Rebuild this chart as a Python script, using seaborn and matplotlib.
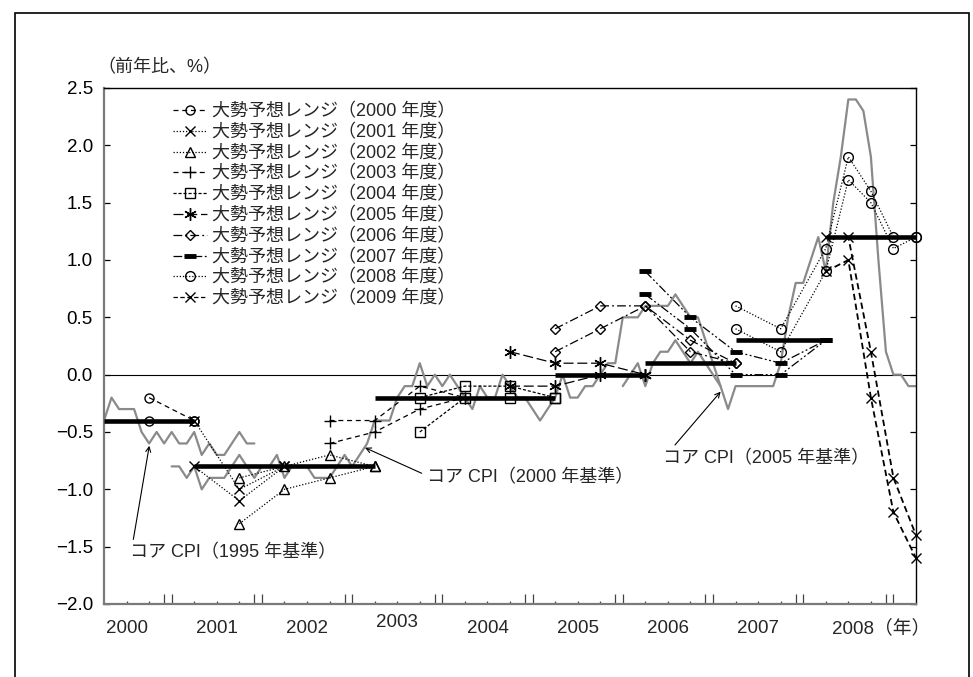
import matplotlib
matplotlib.use("Agg")
import matplotlib.pyplot as plt
import matplotlib.transforms as mtransforms
from matplotlib.lines import Line2D
from matplotlib.patches import Rectangle
import numpy as np
import pandas as pd
import seaborn as sns

sns.set_style("ticks")
plt.rcParams["font.family"] = ["Liberation Sans", "Noto Sans CJK JP"]
plt.rcParams["axes.unicode_minus"] = True

# ---- core CPI, y/y % change (monthly) ----
cpi95_start = "2000-04"
cpi95 = [-0.4, -0.2, -0.3, -0.3, -0.3, -0.5, -0.6, -0.5, -0.6, -0.5, -0.6,
         -0.6, -0.5, -0.7, -0.6, -0.7, -0.7, -0.6, -0.5, -0.6, -0.6]

cpi00_start = "2001-01"
cpi00 = [-0.8, -0.8, -0.9, -0.8, -1.0, -0.9, -0.9, -0.9, -0.8, -0.7, -0.8, -0.9,
         -0.8, -0.8, -0.7,
         -0.9, -0.8, -0.8, -0.8, -0.9, -0.9, -0.9, -0.8, -0.7, -0.8, -0.7, -0.6,
         -0.4, -0.4, -0.4, -0.2, -0.1, -0.1, 0.1, -0.1, 0.0, -0.1, 0.0, -0.1,
         -0.2, -0.3,
         -0.1, -0.2, -0.2, 0.0, -0.1, -0.2, -0.2, -0.3, -0.4, -0.3, -0.2, 0.0,
         -0.2, -0.2, -0.1, -0.1, 0.0, 0.1, 0.1,
         0.5, 0.5, 0.5, 0.6, 0.6, 0.6, 0.6, 0.7, 0.6, 0.5, 0.5, 0.3, 0.1, -0.1]

cpi05_start = "2006-01"
cpi05 = [-0.1, 0.0, 0.1, -0.1, 0.1, 0.2, 0.2, 0.3, 0.2, 0.1, 0.2, 0.1,
         0.0, -0.1, -0.3, -0.1, -0.1, -0.1, -0.1, -0.1, -0.1, 0.1, 0.5, 0.8,
         0.8, 1.0, 1.2, 0.9, 1.5, 1.9, 2.4, 2.4, 2.3, 1.9, 1.0, 0.2,
         0.0, 0.0, -0.1, -0.1]

# ---- actual results by fiscal year ----
fy_years = [2000, 2001, 2002, 2003, 2004, 2005, 2006, 2007, 2008]
fy_actual = [-0.4, -0.8, -0.8, -0.2, -0.2, 0.0, 0.1, 0.3, 1.2]

# ---- majority forecast ranges (upper / lower) by fiscal year ----
dates_fy2000 = ["2000-10", "2001-04"]
upper_fy2000 = [-0.2, -0.4]
lower_fy2000 = [-0.4, -0.4]

dates_fy2001 = ["2001-04", "2001-10", "2002-04"]
upper_fy2001 = [-0.4, -1.0, -0.8]
lower_fy2001 = [-0.8, -1.1, -0.8]

dates_fy2002 = ["2001-10", "2002-04", "2002-10", "2003-04"]
upper_fy2002 = [-0.9, -0.8, -0.7, -0.8]
lower_fy2002 = [-1.3, -1.0, -0.9, -0.8]

dates_fy2003 = ["2002-10", "2003-04", "2003-10", "2004-04"]
upper_fy2003 = [-0.4, -0.4, -0.1, -0.2]
lower_fy2003 = [-0.6, -0.5, -0.3, -0.2]

dates_fy2004 = ["2003-10", "2004-04", "2004-10", "2005-04"]
upper_fy2004 = [-0.2, -0.1, -0.1, -0.2]
lower_fy2004 = [-0.5, -0.2, -0.2, -0.2]

dates_fy2005 = ["2004-10", "2005-04", "2005-10", "2006-04"]
upper_fy2005 = [0.2, 0.1, 0.1, 0.0]
lower_fy2005 = [-0.1, -0.1, 0.0, 0.0]

dates_fy2006 = ["2005-04", "2005-10", "2006-04", "2006-10", "2007-04"]
upper_fy2006 = [0.4, 0.6, 0.6, 0.3, 0.1]
lower_fy2006 = [0.2, 0.4, 0.6, 0.2, 0.1]

dates_fy2007 = ["2006-04", "2006-10", "2007-04", "2007-10", "2008-04"]
upper_fy2007 = [0.9, 0.5, 0.2, 0.1, 0.3]
lower_fy2007 = [0.7, 0.4, 0.0, 0.0, 0.3]

dates_fy2008 = ["2007-04", "2007-10", "2008-04", "2008-07", "2008-10", "2009-01", "2009-04"]
upper_fy2008 = [0.6, 0.4, 1.1, 1.9, 1.6, 1.2, 1.2]
lower_fy2008 = [0.4, 0.2, 0.9, 1.7, 1.5, 1.1, 1.2]

dates_fy2009 = ["2008-04", "2008-07", "2008-10", "2009-01", "2009-04"]
upper_fy2009 = [1.2, 1.2, 0.2, -0.9, -1.4]
lower_fy2009 = [0.9, 1.0, -0.2, -1.2, -1.6]

legend_labels = ["大勢予想レンジ（%d 年度）" % y for y in range(2000, 2010)]
year_labels = ["2000", "2001", "2002", "2003", "2004", "2005", "2006", "2007", "2008（年）"]
y_ticks = [-2.0, -1.5, -1.0, -0.5, 0.0, 0.5, 1.0, 1.5, 2.0, 2.5]


def ym(s):
    """'YYYY-MM' -> decimal year at the start of that month."""
    y, m = s.split("-")
    return int(y) + (int(m) - 1) / 12.0


def monthly(start, values):
    x0 = ym(start)
    return pd.DataFrame({"x": x0 + np.arange(len(values)) / 12.0, "v": values})


fig = plt.figure(figsize=(9.73, 6.77), dpi=100)
ax = fig.add_axes([104 / 973, 1 - 604 / 677, 812 / 973, 516 / 677])

X0, X1 = 2000.25, 2009.25
ax.set_xlim(X0, X1)
ax.set_ylim(-2.0, 2.5)

# zero line
ax.axhline(0, color="black", lw=0.8, zorder=1)

# core CPI series
gray = "#8a8a8a"
for start, vals in [(cpi95_start, cpi95), (cpi00_start, cpi00), (cpi05_start, cpi05)]:
    d = monthly(start, vals)
    sns.lineplot(data=d, x="x", y="v", ax=ax, color=gray, lw=1.6, zorder=2)

# fiscal-year actuals as thick bars over each fiscal year (Apr - Mar)
for fy, val in zip(fy_years, fy_actual):
    d = pd.DataFrame({"x": [fy + 0.25, fy + 1.25], "v": [val, val]})
    sns.lineplot(data=d, x="x", y="v", ax=ax, color="black", lw=3.3,
                 solid_capstyle="butt", zorder=3)

series = [
    (dates_fy2000, upper_fy2000, lower_fy2000, dict(marker="o", ms=6.5, ls=(0, (4, 3)))),
    (dates_fy2001, upper_fy2001, lower_fy2001, dict(marker="x", ms=7, ls=(0, (1, 1.5)))),
    (dates_fy2002, upper_fy2002, lower_fy2002, dict(marker="^", ms=6.5, ls=(0, (1, 1.5)))),
    (dates_fy2003, upper_fy2003, lower_fy2003, dict(marker="+", ms=9, ls=(0, (4, 3)))),
    (dates_fy2004, upper_fy2004, lower_fy2004, dict(marker="s", ms=6.5, ls=(0, (2.5, 1.5)))),
    (dates_fy2005, upper_fy2005, lower_fy2005, dict(marker=(6, 2, 0), ms=9, ls=(0, (8, 3)))),
    (dates_fy2006, upper_fy2006, lower_fy2006, dict(marker="D", ms=5.5, ls=(0, (7, 2.5, 1.5, 2.5)))),
    (dates_fy2007, upper_fy2007, lower_fy2007, dict(marker="_", ms=9, mew=3.5, ls=(0, (7, 2, 1.5, 2, 1.5, 2)))),
    (dates_fy2008, upper_fy2008, lower_fy2008, dict(marker="o", ms=7, ls=(0, (1, 1.5)))),
    (dates_fy2009, upper_fy2009, lower_fy2009, dict(marker="x", ms=7, ls=(0, (3.5, 2)), lw=1.3)),
]

handles = []
for dates, up, lo, st in series:
    xs = [ym(s) for s in dates]
    lw = st.get("lw", 0.9)
    mew = st.get("mew", 1.0)
    for vals in (up, lo):
        d = pd.DataFrame({"x": xs, "v": vals})
        sns.lineplot(data=d, x="x", y="v", ax=ax, color="black", lw=lw,
                     linestyle=st["ls"], marker=st["marker"], markersize=st["ms"],
                     markerfacecolor="none", markeredgecolor="black",
                     markeredgewidth=mew, zorder=4, clip_on=False)
    handles.append(Line2D([], [], color="black", lw=0.9, linestyle=st["ls"],
                          marker=st["marker"], markersize=st["ms"],
                          markerfacecolor="none", markeredgecolor="black",
                          markeredgewidth=mew))

ax.set_xlabel("")
ax.set_ylabel("")

# axes frame
for side in ("left", "bottom"):
    ax.spines[side].set_color("#7a7a7a")
    ax.spines[side].set_linewidth(1.6)
for side in ("top", "right"):
    ax.spines[side].set_color("black")
    ax.spines[side].set_linewidth(1.0)
    ax.spines[side].set_visible(True)

# y ticks: inward, on both sides
ax.set_yticks(y_ticks)
ax.set_yticklabels(["%.1f" % v if v >= 0 else "\u2212%.1f" % abs(v) for v in y_ticks])
ax.tick_params(axis="y", which="both", direction="in", left=True, right=True,
               length=4, width=0.9, pad=8, labelsize=13.5, colors="black")

# x ticks: long at Dec/Jan, short at Apr/Jul/Oct
years = np.arange(2000, 2010)
major = sorted([y + 11 / 12 for y in years if X0 < y + 11 / 12 < X1] +
               [y for y in years if X0 < y < X1])
minor = sorted([y + f for y in years for f in (0.25, 0.5, 0.75) if X0 < y + f < X1])
ax.set_xticks(major)
ax.set_xticks(minor, minor=True)
ax.tick_params(axis="x", which="major", direction="in", length=7.5, width=0.9,
               labelbottom=False, top=False, color="#444444")
ax.tick_params(axis="x", which="minor", direction="in", length=2.5, width=0.9,
               labelbottom=False, top=False, color="#444444")

# calendar-year labels under the axis
trans = mtransforms.blended_transform_factory(ax.transData, ax.transAxes)
for i, lab in enumerate(year_labels):
    yr = 2000 + i
    yoff = -0.036 if yr == 2003 else -0.048
    if lab.endswith("（年）"):
        ax.text(2008.32, yoff, lab, transform=trans, ha="left", va="center", fontsize=13.5)
    else:
        ax.text(yr + 0.5, yoff, lab, transform=trans, ha="center", va="center", fontsize=13.5)

# unit label
fig.text(97 / 973, 1 - 68 / 677, "（前年比、%）", ha="left", va="center", fontsize=13)

# series annotations
arrow = dict(arrowstyle="->", lw=0.8, color="black", shrinkA=0, shrinkB=0,
             mutation_scale=9)
ax.annotate("", xy=(2000.752, -0.62), xytext=(2000.575, -1.437), arrowprops=arrow)
ax.text(2000.538, -1.555, "コア CPI（1995 年基準）", ha="left", va="center", fontsize=13)
ax.annotate("", xy=(2003.143, -0.637), xytext=(2003.771, -0.86), arrowprops=arrow)
ax.text(2003.827, -0.898, "コア CPI（2000 年基準）", ha="left", va="center", fontsize=13)
ax.annotate("", xy=(2007.085, -0.148), xytext=(2006.579, -0.613), arrowprops=arrow)
ax.text(2006.443, -0.729, "コア CPI（2005 年基準）", ha="left", va="center", fontsize=13)

# legend
leg = ax.legend(handles, legend_labels, loc="upper left",
                bbox_to_anchor=((173 - 104) / 812, (604 - 103) / 516),
                frameon=False, fontsize=13, handlelength=1.9, handletextpad=0.25,
                labelspacing=0.2, borderpad=0, borderaxespad=0)

# outer frame
fig.add_artist(Rectangle((15 / 973, -0.02), (969 - 15) / 973, 1 - 13 / 677 + 0.02,
                         transform=fig.transFigure, fill=False, lw=1.2,
                         edgecolor="black"))

fig.savefig("out.png", dpi=100)
